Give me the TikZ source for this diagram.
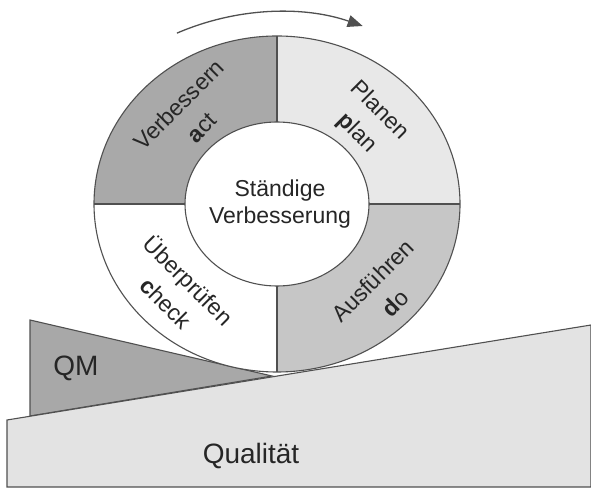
\documentclass[tikz,border=0pt]{standalone}
\usepackage{fontspec}
\setmainfont{Liberation Sans}
\usetikzlibrary{arrows.meta}
\definecolor{segdark}{HTML}{A9A9A9}
\definecolor{seglight}{HTML}{E8E8E8}
\definecolor{segmid}{HTML}{C6C6C6}
\definecolor{qmgray}{HTML}{A8A8A8}
\definecolor{qualgray}{HTML}{E3E3E3}
\definecolor{linegray}{HTML}{505050}
\tikzset{
  outline/.style={draw=linegray, line width=1.1pt},
  ringlabel/.style={align=center, font=\fontsize{23}{32}\selectfont, text=black!85, inner sep=1pt},
  centerlabel/.style={align=center, font=\fontsize{23}{27}\selectfont, text=black!85},
  biglabel/.style={font=\fontsize{28}{32}\selectfont, text=black!85},
}
\begin{document}
\begin{tikzpicture}[x=1pt,y=1pt]
\useasboundingbox (0,0) rectangle (591,487);
% QM wedge
\filldraw[fill=qmgray, outline] (30,167) -- (272,111) -- (30,71) -- cycle;
% Qualitaet base
\filldraw[fill=qualgray, outline] (7,0) -- (7,67) -- (591,162) -- (591,0) -- cycle;
% ring quadrants
\fill[segdark]  (277,283) -- ++(-183,0) arc[start angle=180, end angle=90, x radius=183, y radius=168] -- cycle;
\fill[seglight] (277,283) -- ++(0,168) arc[start angle=90, end angle=0, x radius=183, y radius=168] -- cycle;
\fill[segmid]   (277,283) -- ++(183,0) arc[start angle=0, end angle=-90, x radius=183, y radius=168] -- cycle;
\fill[white]    (277,283) -- ++(0,-168) arc[start angle=-90, end angle=-180, x radius=183, y radius=168] -- cycle;
\draw[outline] (277,283) ellipse[x radius=183, y radius=168];
\draw[outline] (94,283) -- (460,283);
\draw[outline] (277,451) -- (277,115);
\filldraw[fill=white, outline] (277,283) ellipse[x radius=92, y radius=82];
% rotation arrow
\draw[linegray, line width=1.3pt, -{Triangle[length=15pt,width=12pt]}]
  (279,218) ++(113.4:257) arc[start angle=113.4, end angle=71.0, radius=257];
% labels
\node[ringlabel, rotate=45]  (act)   at (190,371) {Verbessern\\\textbf{a}ct};
\node[ringlabel, rotate=-45] (plan)  at (368,365) {Planen\\\textbf{p}lan};
\node[ringlabel, rotate=45]  (do)    at (384,195) {Ausführen\\\textbf{d}o};
\node[ringlabel, rotate=-45] (check) at (178,196) {Überprüfen\\\textbf{c}heck};
\node[centerlabel] (center) at (280,283) {Ständige\\Verbesserung};
\node[biglabel] (qm) at (76,119) {QM};
\node[biglabel] (qual) at (251,31) {Qualität};
\end{tikzpicture}
\end{document}
